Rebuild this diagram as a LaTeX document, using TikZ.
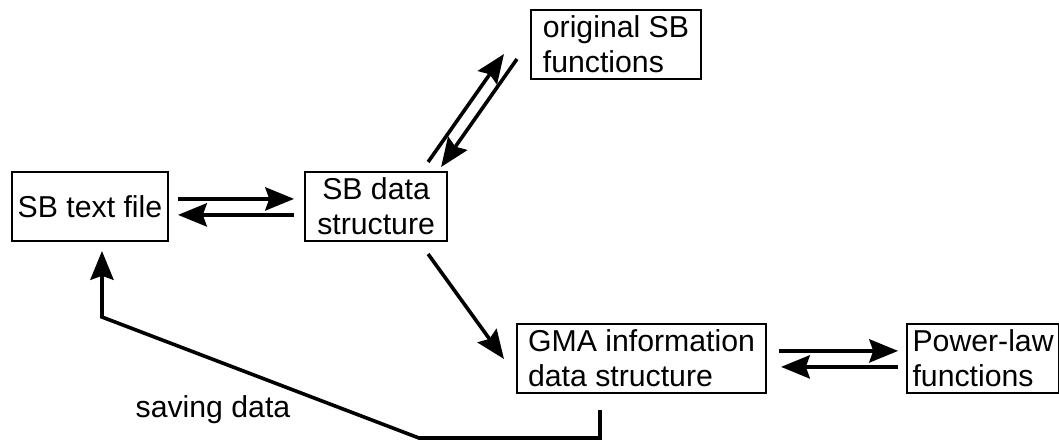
\documentclass[tikz,border=0pt]{standalone}
\usepackage{fontspec}
\setmainfont{Liberation Sans}
\usetikzlibrary{positioning}
\usetikzlibrary{arrows.meta}
\usetikzlibrary{calc}

\tikzset{
    block/.style={draw, line width=0.05cm,
        minimum height=1.725cm, align=left, inner xsep=0.1cm,
        font=\fontsize{21.5}{24.8}\selectfont},
    flow/.style={line width=0.09cm,
        -{Stealth[length=0.72cm, width=0.58cm, inset=0.1cm]}}
}

\begin{document}
\begin{tikzpicture}[x=0.025cm, y=-0.025cm]
\useasboundingbox (0,0) rectangle (1059,441);

% Text file
\node[block, minimum width=3.9cm] (sbtext) at (90,206.5) {SB text file};

% Data structure
\node[block, align=center,
    minimum width=3.55cm,
    right=3.375cm of sbtext
] (sbdata) {SB data\\structure};

% Original functions
\node[block, minimum width=4.25cm] (orig) at (616,44.5) {original SB\\functions};

% GMA structure
\node[block, minimum width=6.225cm] (gma) at (641.5,358.5) {GMA information\\data structure};

% Power-law
\node[block,
    minimum width=3.8cm,
    right=3.475cm of gma
] (power) {Power-law\\functions};

% Arrows between text file and data structure
\draw[flow, shorten <=0.225cm, shorten >=0.25cm] ([yshift=0.19cm]sbtext.east) -- ([yshift=0.19cm]sbdata.west);
\draw[flow, shorten <=0.25cm, shorten >=0.225cm] ([yshift=-0.21cm]sbdata.west) -- ([yshift=-0.21cm]sbtext.east);

% Arrows to and from original functions
\draw[flow] ([shift={(-20,-9)}]sbdata.north east) -- ([shift={(-26,-26)}]orig.south west);
\draw[flow] ([shift={(-13,-21)}]orig.south west) -- ([shift={(-7,-4)}]sbdata.north east);

% Conversion
\draw[flow] ([shift={(-20,12)}]sbdata.south east) -- ([shift={(-12,36)}]gma.north west);

% Arrows between GMA and power-law
\draw[flow, shorten <=0.3cm, shorten >=0.2cm] ([yshift=0.19cm]gma.east) -- ([yshift=0.19cm]power.west);
\draw[flow, shorten <=0.2cm, shorten >=0.35cm] ([yshift=-0.21cm]power.west) -- ([yshift=-0.21cm]gma.east);

% Saving
\draw[flow] ([shift={(84,16)}]gma.south west) -- ++(0,28) -- ++(-181,0)
    -- ([shift={(91,75)}]sbtext.south west) -- ([shift={(91,9)}]sbtext.south west);
\node[font=\fontsize{21.5}{24.8}\selectfont] (savelabel) at (213,410) {saving data};

\end{tikzpicture}
\end{document}
